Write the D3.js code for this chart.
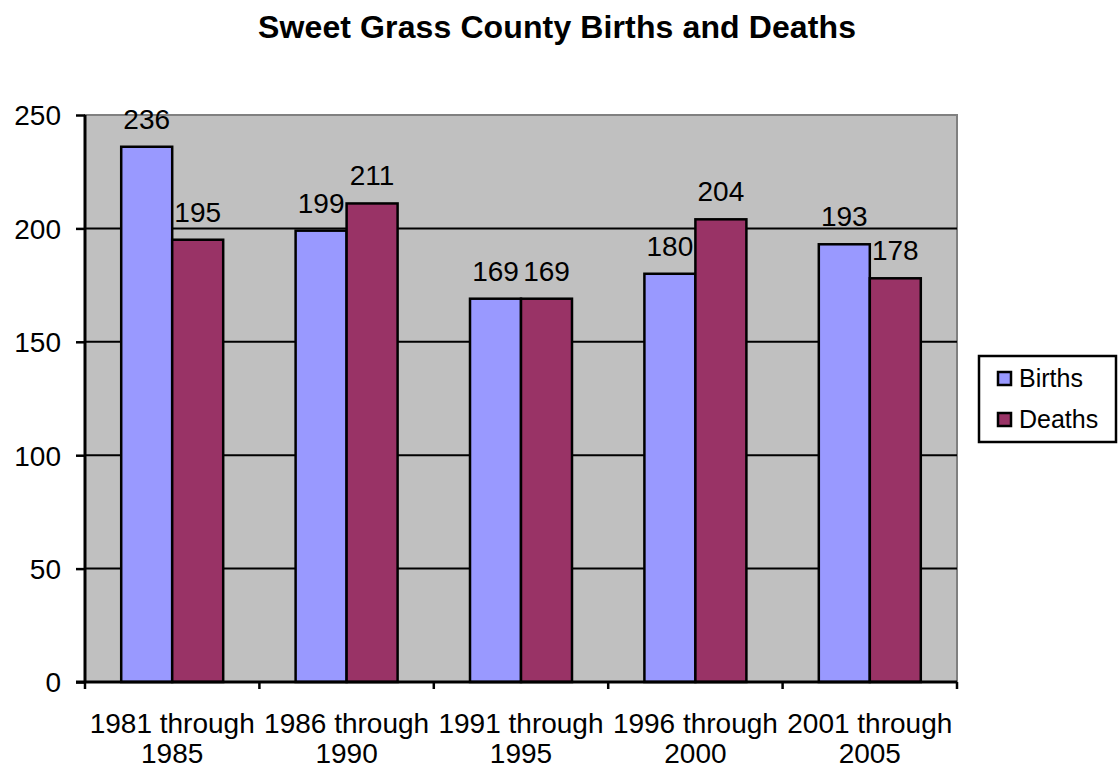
<!DOCTYPE html>
<html><head><meta charset="utf-8">
<script src="https://cdn.jsdelivr.net/npm/d3@7"></script>
<style>body{margin:0;background:#fff}svg{display:block}text{font-family:"Liberation Sans",Arial,sans-serif;fill:#000}</style>
</head><body><svg id="c" width="1119" height="772"></svg>
<script>
const categories = ["1981 through 1985","1986 through 1990","1991 through 1995","1996 through 2000","2001 through 2005"];
const seriesNames = ["Births","Deaths"];
const births = [236,199,169,180,193];
const deaths = [195,211,169,204,178];
const yTicks = [0,50,100,150,200,250];
const colors = ["#9999FF","#993366"];

const svg = d3.select("#c");
const L=85,R=957,T=115,B=682;
const x0 = d3.scaleBand().domain(categories).range([L,R]).padding(0);
const x1 = d3.scaleBand().domain(seriesNames).range([0,x0.bandwidth()]).paddingInner(0).paddingOuter(0.71);
const y = d3.scaleLinear().domain([0,250]).range([B,T]);
const vals = {Births:births, Deaths:deaths};

svg.append("text").attr("x",557).attr("y",38).attr("text-anchor","middle")
  .style("font-weight","bold").style("font-size","32px").attr("textLength",598).text("Sweet Grass County Births and Deaths");

svg.append("rect").attr("x",L).attr("y",T).attr("width",R-L).attr("height",B-T).attr("fill","#C0C0C0").attr("stroke","#808080").attr("stroke-width",2);

svg.append("g").selectAll("line").data(yTicks.filter(d=>d>0&&d<250)).join("line")
  .attr("x1",L).attr("x2",R).attr("y1",d=>y(d)).attr("y2",d=>y(d)).attr("stroke","#000").attr("stroke-width",2);

const g = svg.append("g");
categories.forEach((c,i)=>{
  seriesNames.forEach((s,j)=>{
    const v = vals[s][i];
    g.append("rect").attr("x",x0(c)+x1(s)).attr("y",y(v)).attr("width",x1.bandwidth()).attr("height",y(0)-y(v))
      .attr("fill",colors[j]).attr("stroke","#000").attr("stroke-width",2.5);
    g.append("text").attr("x",x0(c)+x1(s)+x1.bandwidth()/2).attr("y",y(v)-18).attr("text-anchor","middle")
      .style("font-size","28px").text(v);
  });
});

// y axis
const ya = svg.append("g").attr("transform",`translate(${L},0)`).call(d3.axisLeft(y).tickValues(yTicks).tickSize(9).tickPadding(15));
ya.select(".domain").remove();
ya.selectAll(".tick line").attr("stroke","#000").attr("stroke-width",2.5);
ya.selectAll("text").style("font-size","28px").attr("font-family",null).attr("dy","0.35em");
svg.append("line").attr("x1",L).attr("x2",L).attr("y1",T).attr("y2",B).attr("stroke","#000").attr("stroke-width",3);

// x axis
const xa = svg.append("g").attr("transform",`translate(0,${B})`).call(d3.axisBottom(x0).tickSize(0).tickFormat(""));
xa.select(".domain").remove();
svg.append("line").attr("x1",L-9).attr("x2",R).attr("y1",B).attr("y2",B).attr("stroke","#000").attr("stroke-width",3);
svg.append("g").selectAll("line").data(d3.range(categories.length+1)).join("line")
  .attr("x1",i=>L+i*x0.step()).attr("x2",i=>L+i*x0.step()).attr("y1",B).attr("y2",B+7).attr("stroke","#000").attr("stroke-width",2.5);
svg.append("g").selectAll("text").data(categories).join("text")
  .attr("x",d=>x0(d)+x0.bandwidth()/2).attr("y",733).attr("text-anchor","middle").style("font-size","28px")
  .each(function(d){
    const parts = d.split(" through ");
    const t = d3.select(this);
    t.append("tspan").attr("x",x0(d)+x0.bandwidth()/2).text(parts[0]+" through");
    t.append("tspan").attr("x",x0(d)+x0.bandwidth()/2).attr("dy",30).text(parts[1]);
  });

// legend
const lg = svg.append("g");
lg.append("rect").attr("x",979).attr("y",356).attr("width",137).attr("height",86).attr("fill","#fff").attr("stroke","#000").attr("stroke-width",2.5);
seriesNames.forEach((s,j)=>{
  lg.append("rect").attr("x",998).attr("y",372+j*41).attr("width",13).attr("height",13).attr("fill",colors[j]).attr("stroke","#000").attr("stroke-width",2.5);
  lg.append("text").attr("x",1019).attr("y",387+j*41).style("font-size","25px").text(s);
});
</script></body></html>
